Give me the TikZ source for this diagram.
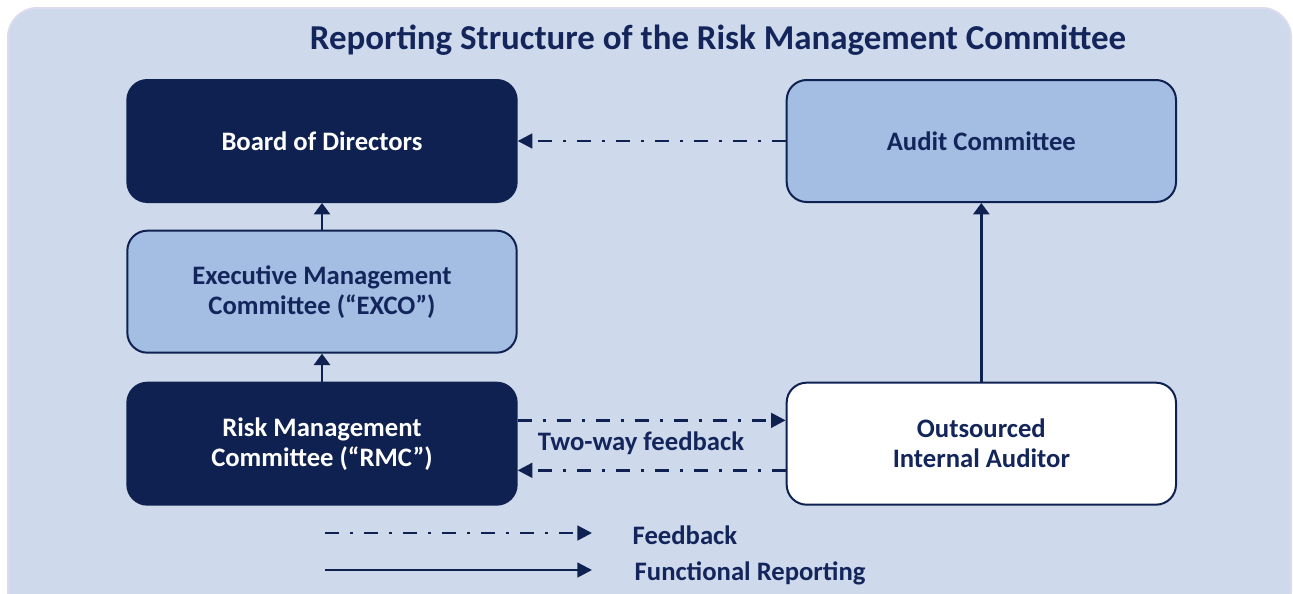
\documentclass[tikz,border=0pt]{standalone}
\usepackage{fontspec}
\setmainfont{Carlito}
\usetikzlibrary{arrows.meta,positioning}
\definecolor{rmnavy}{HTML}{0F2150}
\definecolor{rmmid}{HTML}{A4BEE3}
\definecolor{rmback}{HTML}{CEDAEC}
\definecolor{rmedge}{HTML}{DCDAEE}
\definecolor{rmtext}{HTML}{13255B}

\begin{document}
\begin{tikzpicture}[
                x=0.75pt, y=-0.75pt,
                font=\bfseries\fontsize{20}{22.5}\selectfont,
                box/.style={
                        draw=rmnavy, line width=1.5pt, rounded corners=15pt,
                        align=center, minimum width=292pt, minimum height=91.5pt,
                        inner sep=0pt, text=rmtext
                    },
                darkbox/.style={box, fill=rmnavy, text=white},
                midbox/.style={box, fill=rmmid},
                whitebox/.style={box, fill=white},
                reparr/.style={-{Triangle[length=8.5pt,width=12pt]}, line width=1.9pt, rmnavy},
                fbarr/.style={-{Triangle[length=11pt,width=11pt]}, line width=2pt, rmnavy,
                        dash pattern=on 10.5pt off 8.25pt on 2.25pt off 8.25pt}
                ]
                \useasboundingbox (0,0) rectangle (1293,593);
                \draw[rmedge, line width=1.5pt, fill=rmback, rounded corners=22pt] (8,8) rectangle (1291,620);
                \node[text=rmtext, font=\bfseries\fontsize{26.2}{30}\selectfont] (title) at (718,40) {Reporting Structure of the Risk Management Committee};

                \node[darkbox] (board) at (322,141) {Board of Directors};
                \node[midbox, below=20pt of board] (exco) {Executive Management\\Committee (“EXCO”)};
                \node[darkbox, below=21pt of exco] (rmc) {Risk Management\\Committee (“RMC”)};
                \node[midbox, right=201pt of board] (audit) {Audit Committee};
                \node[whitebox, right=201pt of rmc] (outsrc) {Outsourced\\Internal Auditor};

                \draw[reparr] (exco) -- (board);
                \draw[reparr] (rmc) -- (exco);
                \draw[reparr] (outsrc) -- (audit);
                \draw[fbarr] (audit) -- (board);
                \draw[fbarr] ([yshift=17.5pt]rmc.east) -- ([yshift=17.5pt]outsrc.west);
                \draw[fbarr] ([yshift=-20pt]outsrc.west) -- ([yshift=-20pt]rmc.east);
                \node[text=rmtext] (twoway) at (641,443) {Two-way feedback};

                % legend
                \coordinate (fbstart) at (325,533);
                \coordinate (fbend) at (592,533);
                \coordinate (repstart) at (325,570);
                \coordinate (repend) at (592,570);
                \draw[fbarr] (fbstart) -- (fbend);
                \draw[reparr, -{Triangle[length=11pt,width=11pt]}] (repstart) -- (repend);
                \node[text=rmtext, anchor=west] (fblabel) at (628,535) {Feedback};
                \node[text=rmtext, anchor=west] (replabel) at (630,573) {Functional Reporting};
            \end{tikzpicture}
\end{document}
